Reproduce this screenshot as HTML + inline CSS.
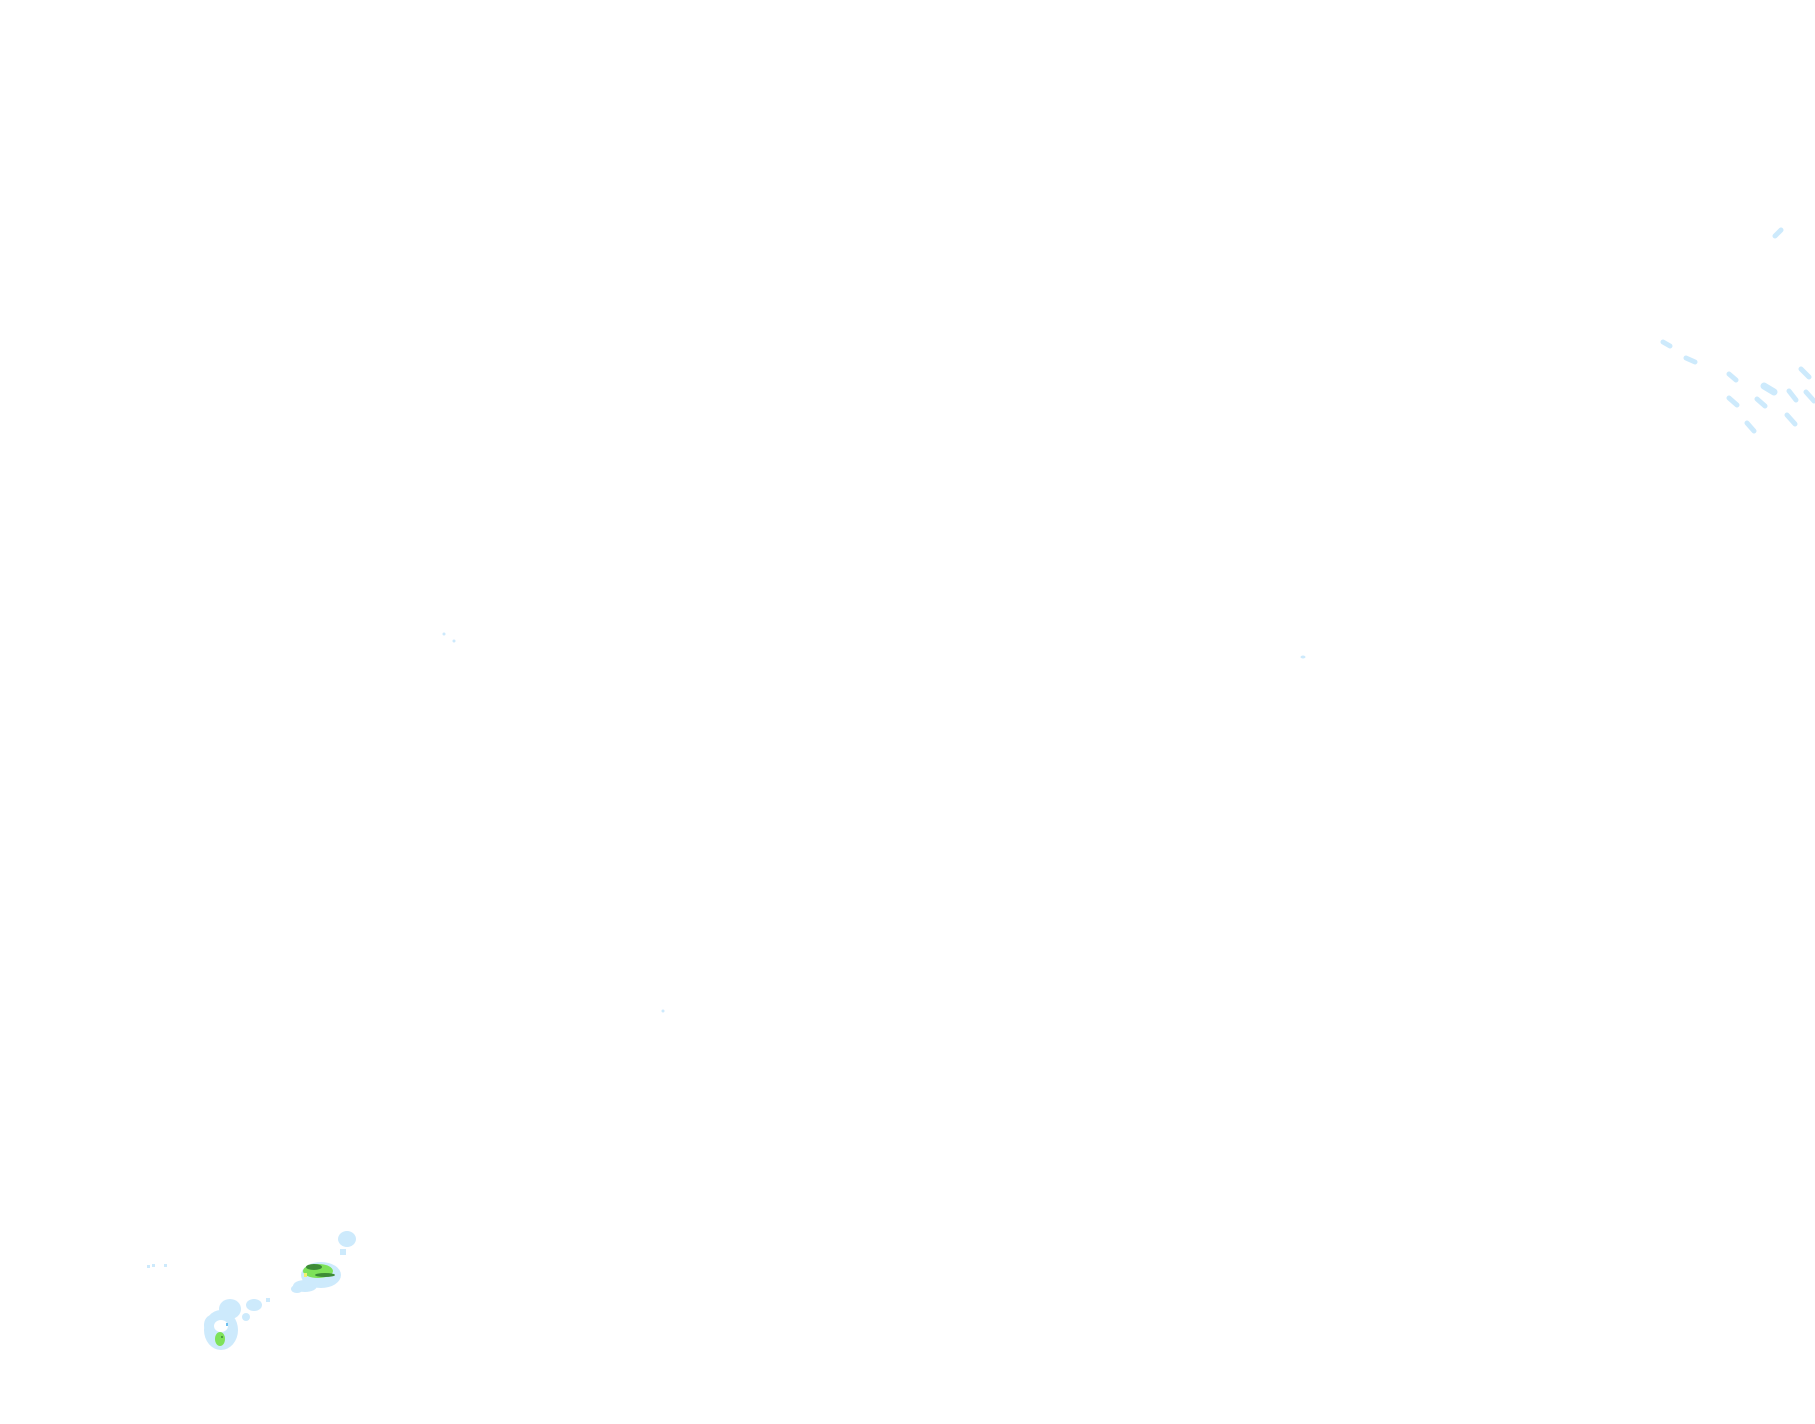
<!DOCTYPE html>
<html><head><meta charset="utf-8"><style>html,body{margin:0;padding:0;background:#fff}svg{display:block}</style></head>
<body>
<svg width="1815" height="1424" viewBox="0 0 1815 1424" xmlns="http://www.w3.org/2000/svg">
<g stroke="#cdeafc" stroke-linecap="round" fill="none" stroke-width="5">
<line x1="1775" y1="236" x2="1781" y2="230"/>
<line x1="1663" y1="342" x2="1670" y2="346"/>
<line x1="1686" y1="358" x2="1695" y2="362"/>
<line x1="1729" y1="374" x2="1736" y2="380"/>
<line x1="1764" y1="386" x2="1774" y2="392" stroke-width="7"/>
<line x1="1801" y1="369" x2="1809" y2="377"/>
<line x1="1729" y1="398" x2="1737" y2="405"/>
<line x1="1757" y1="399" x2="1765" y2="406"/>
<line x1="1789" y1="391" x2="1796" y2="400"/>
<line x1="1806" y1="392" x2="1814" y2="401"/>
<line x1="1747" y1="423" x2="1754" y2="431"/>
<line x1="1787" y1="415" x2="1795" y2="424"/>
</g>
<g fill="#cdeafc">
<circle cx="444" cy="634" r="1.5"/><circle cx="454" cy="641" r="1.5"/>
<ellipse cx="1303" cy="657" rx="2.5" ry="1.5"/>
<circle cx="663" cy="1011" r="1.5"/>
<rect x="147" y="1265" width="3" height="3"/><rect x="152" y="1264" width="3" height="3"/><rect x="164" y="1264" width="3" height="3"/>
<ellipse cx="347" cy="1239" rx="9" ry="8"/>
<rect x="340" y="1249" width="6" height="6"/>
<ellipse cx="321" cy="1275" rx="20" ry="13"/>
<ellipse cx="305" cy="1286" rx="12" ry="6"/>
<ellipse cx="297" cy="1289" rx="6" ry="4"/>
<ellipse cx="221" cy="1330" rx="17" ry="20"/>
<ellipse cx="230" cy="1309" rx="11" ry="10"/>
<ellipse cx="212" cy="1325" rx="8" ry="10"/>
<ellipse cx="254" cy="1305" rx="8" ry="6"/>
<ellipse cx="246" cy="1317" rx="4" ry="4"/>
<rect x="266" y="1298" width="4" height="4"/>
</g>
<ellipse cx="221" cy="1326" rx="7" ry="6" fill="#fff"/>
<g fill="#66bb6a">
<ellipse cx="318" cy="1271" rx="15" ry="7" fill="#7ee25a"/>
<ellipse cx="314" cy="1267" rx="8" ry="3" fill="#3d8b37"/>
<ellipse cx="325" cy="1275" rx="10" ry="2" fill="#3d8b37"/>
<rect x="304" y="1273" width="3" height="4" fill="#f0f070"/>
<ellipse cx="220" cy="1339" rx="5" ry="7" fill="#7ee25a"/>
<circle cx="222" cy="1337" r="1" fill="#3d8b37"/>
</g>
<rect x="226" y="1323" width="2" height="3" fill="#6ec0ee"/>
</svg>
</body></html>
